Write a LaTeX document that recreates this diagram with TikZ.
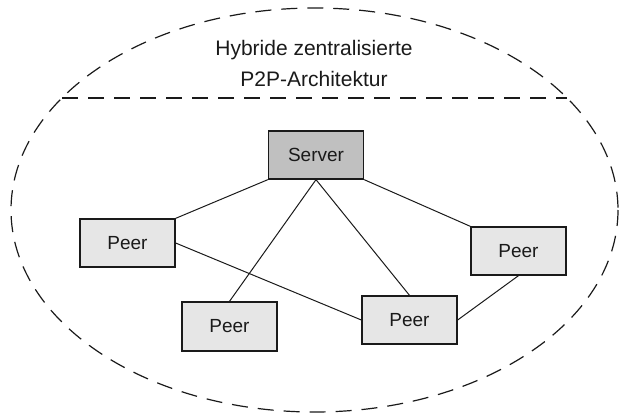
\documentclass[tikz,border=0pt]{standalone}
\usepackage{fontspec}
\setmainfont{Liberation Sans}
\definecolor{servergray}{HTML}{C0C0C0}
\definecolor{peergray}{HTML}{E6E6E6}
\definecolor{inkc}{HTML}{1A1A1A}
\begin{document}
\begin{tikzpicture}[x=1pt,y=-1pt,
  box/.style={draw=inkc,line width=1.3pt,rectangle,minimum width=95pt,minimum height=48pt,inner sep=0pt,
    font=\fontsize{19}{23}\selectfont,text=inkc},
  serverbox/.style={box,fill=servergray},
  peerbox/.style={box,fill=peergray},
  link/.style={draw=inkc,line width=1pt},
  dashline/.style={draw=inkc,line width=1.2pt,dash pattern=on 16pt off 10pt}]
\useasboundingbox (0,0) rectangle (625,418);
\draw[dashline] (314.5,210) ellipse [x radius=303.5, y radius=202];
\coordinate (dl) at (62,98);
\coordinate (dr) at (567,98);
\draw[dashline] (dl) -- (dr);
\node[align=center,font=\fontsize{21}{31}\selectfont,text=inkc] (title) at (314,63) {Hybride zentralisierte\\P2P-Architektur};
\node[serverbox] (server) at (316,155) {Server};
\node[peerbox] (p1) at (127.5,243) {Peer};
\node[peerbox,minimum height=49pt] (p2) at (229.5,326.5) {Peer};
\node[peerbox] (p3) at (409.5,320) {Peer};
\node[peerbox] (p4) at (518.5,251) {Peer};
\draw[link] (server.south west) -- (p1.north east);
\draw[link] (server.south) -- (p2.north);
\draw[link] (server.south) -- (p3.north);
\draw[link] (server.south east) -- (p4.north west);
\draw[link] (p1.east) -- (p3.west);
\draw[link] (p3.east) -- (p4.south);
\end{tikzpicture}
\end{document}
